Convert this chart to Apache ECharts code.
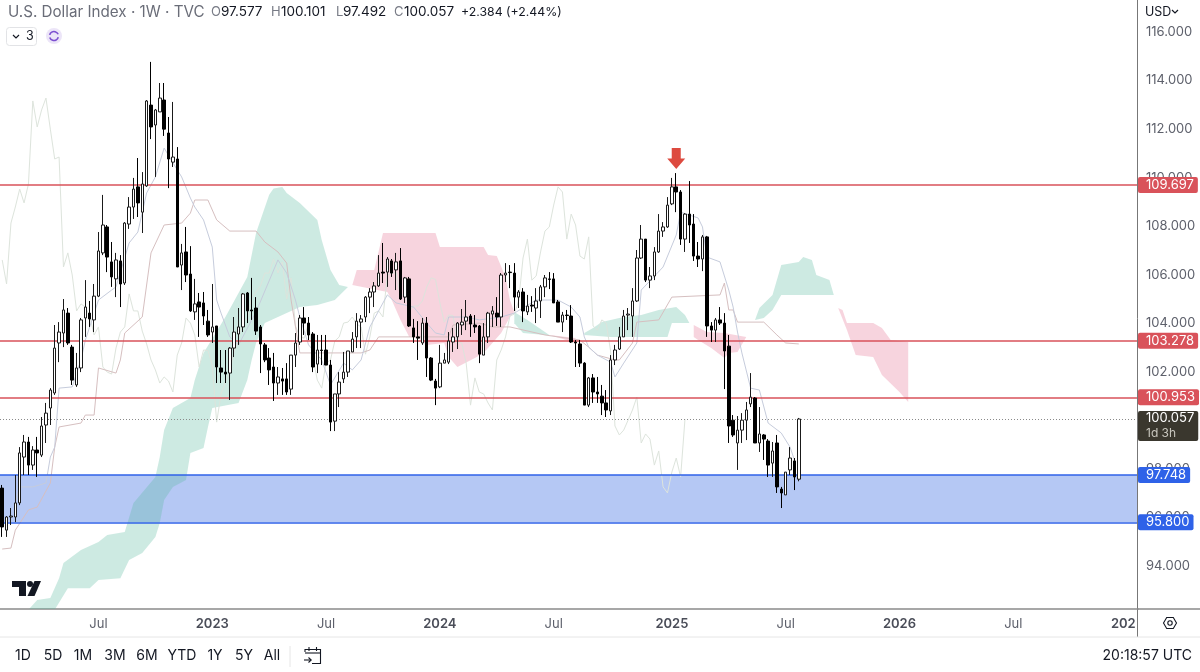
<!DOCTYPE html>
<html>
<head>
<meta charset="utf-8">
<title>U.S. Dollar Index</title>
<script src="https://cdn.jsdelivr.net/npm/echarts@6/dist/echarts.min.js"></script>
<style>
  html, body { margin: 0; padding: 0; background: #fff; }
  #chart { width: 1200px; height: 672px; }
</style>
</head>
<body>
<div id="chart"></div>
<script>
// Weekly axis: first visible week and number of slots (candles stop at index 182)
const firstWeek = '2022-01-31';
const weekCount = 260;
const tickWeeks = ['2022-07-04', '2023-01-02', '2023-07-03', '2024-01-01', '2024-07-01', '2025-01-06', '2025-07-07', '2026-01-05', '2026-07-06', '2027-01-04'];
const tickTexts = ['Jul', '2023', 'Jul', '2024', 'Jul', '2025', 'Jul', '2026', 'Jul', '2027'];
const priceTicks = [94, 96, 98, 100, 102, 104, 106, 108, 110, 112, 114, 116];

// Candles
const opens = [97.21,95.48,96.02,96.02,96.60,98.49,99.11,98.16,98.78,98.57,99.81,100.51,101.13,103.19,103.60,104.42,103.02,101.46,102.16,104.22,104.42,104.14,105.12,106.90,107.97,106.53,105.83,106.57,105.66,108.09,108.79,109.62,108.58,109.66,112.99,112.17,112.71,113.20,111.84,110.64,110.77,106.40,106.94,106.03,104.47,104.88,104.84,104.09,103.64,103.89,102.16,101.99,101.95,102.98,103.56,103.85,105.25,104.55,104.63,103.85,103.11,102.57,102.20,101.54,101.71,101.71,101.29,102.69,103.23,104.22,104.01,103.56,102.32,102.90,102.90,102.28,99.97,101.09,101.71,101.99,102.82,103.44,104.05,104.26,105.08,105.29,105.54,106.11,106.11,106.57,106.20,106.57,105.08,105.83,103.81,103.44,103.19,104.01,102.57,101.62,101.38,102.36,102.40,103.23,103.44,103.93,104.09,104.30,103.93,103.89,102.69,103.44,104.38,104.42,104.26,105.99,106.11,106.07,105.08,105.29,104.47,104.75,104.63,104.92,105.50,105.83,105.83,104.88,104.05,104.34,104.30,103.23,103.15,102.36,100.63,101.75,101.17,101.00,100.72,100.39,102.49,102.94,103.44,104.34,104.30,104.92,106.69,107.47,105.78,105.95,106.94,107.80,107.97,108.92,109.62,109.41,107.47,108.50,108.09,106.77,106.65,107.56,103.89,103.72,104.14,104.01,103.06,100.01,99.07,99.60,100.01,100.68,100.92,99.07,99.40,99.15,98.24,99.07,97.17,96.93,97.96,98.33,97.577];
const closes = [95.61,96.02,96.06,96.60,98.66,99.11,98.16,98.78,98.66,99.77,100.30,101.25,102.98,103.64,104.55,103.19,101.66,102.16,104.14,104.67,104.18,105.12,106.98,108.05,106.73,105.91,106.61,105.62,108.13,108.79,109.53,108.96,109.74,113.16,112.09,112.79,113.28,112.00,110.77,110.85,106.32,106.90,105.99,104.51,104.80,104.67,104.30,103.52,103.85,102.20,101.99,101.91,102.98,103.64,103.85,105.21,104.51,104.51,103.68,103.15,102.49,102.08,101.54,101.79,101.62,101.17,102.69,103.19,104.22,104.01,103.52,102.20,102.90,102.88,102.28,99.93,101.09,101.58,101.99,102.86,103.35,104.09,104.18,105.08,105.29,105.54,106.07,106.07,106.65,106.07,106.53,105.00,105.87,103.89,103.44,103.39,104.01,102.57,101.66,101.33,102.36,102.49,103.27,103.44,104.01,104.05,104.26,103.97,103.85,102.73,103.44,104.42,104.51,104.26,105.99,106.07,106.09,105.08,105.29,104.51,104.71,104.71,104.92,105.50,105.87,105.81,104.84,104.05,104.34,104.32,103.23,103.19,102.36,100.63,101.75,101.17,101.09,100.72,100.43,102.49,102.90,103.44,104.30,104.38,104.92,106.69,107.47,105.78,105.95,106.94,107.80,107.97,108.87,109.62,109.41,107.47,108.50,108.05,106.77,106.65,107.56,103.89,103.72,104.14,104.01,102.86,99.77,99.40,99.60,100.01,100.43,100.96,99.07,99.44,99.23,98.16,98.74,97.26,97.01,97.87,98.45,97.67,100.057];
const lows = [95.20,95.20,95.69,95.81,96.51,97.75,97.75,97.96,97.67,98.49,99.07,99.81,101.05,102.40,103.02,103.11,101.46,101.38,101.99,103.44,103.85,103.64,105.08,106.81,106.11,105.50,105.08,104.67,105.58,107.89,108.30,108.38,107.72,109.62,111.59,110.03,112.71,111.72,109.57,110.44,106.32,105.37,105.70,104.47,104.14,103.44,103.93,103.44,103.19,101.54,101.54,101.54,100.84,102.61,103.11,103.64,104.01,104.14,103.52,101.95,102.40,101.46,100.80,101.05,101.05,101.05,101.05,102.20,103.11,103.52,103.31,101.99,101.95,102.28,102.28,99.56,99.56,100.55,101.54,101.79,102.82,102.98,102.98,104.05,104.42,104.67,105.50,105.66,105.50,105.91,105.37,104.96,104.84,103.85,103.19,102.49,103.11,101.79,101.62,100.63,101.33,102.36,102.32,102.82,102.94,103.52,103.72,103.44,103.60,102.36,102.69,103.19,103.85,103.89,103.85,105.70,105.45,104.51,104.63,104.05,104.34,104.47,104.01,104.22,105.08,105.41,104.84,104.05,103.64,104.14,103.19,102.20,102.20,100.63,100.55,100.72,100.72,100.22,100.14,100.22,102.28,102.90,103.44,103.72,103.44,104.88,106.65,105.70,105.45,105.78,106.90,107.56,107.93,108.87,108.58,107.23,106.94,107.31,106.57,106.32,106.15,103.44,103.23,103.23,103.93,101.29,99.07,99.32,97.96,99.07,99.19,100.55,99.07,98.70,98.37,97.67,97.67,97.01,96.39,96.93,97.75,97.13,97.492];
const highs = [97.34,96.06,96.39,97.75,98.90,99.40,99.32,98.94,99.32,100.14,100.72,101.33,103.93,104.05,105.00,104.63,103.11,102.78,104.22,105.78,104.92,105.62,107.76,109.29,108.05,107.35,106.90,106.81,108.17,109.20,109.99,110.81,110.23,113.20,114.77,112.83,113.90,113.90,112.50,113.12,111.26,107.27,107.97,107.18,105.83,105.25,105.29,104.55,105.62,103.89,102.90,102.90,103.02,104.26,104.63,105.25,105.29,105.87,105.08,103.93,103.19,102.98,102.78,102.20,102.16,102.36,102.69,103.60,104.34,104.67,104.26,103.64,103.52,103.52,103.52,102.49,101.09,101.99,102.82,102.86,103.64,104.42,104.34,105.12,105.45,105.70,106.81,107.31,106.73,106.65,106.90,107.10,105.91,105.91,104.18,104.09,104.22,104.26,102.61,101.71,103.11,102.78,103.64,103.81,104.05,104.59,104.96,104.38,104.34,103.93,104.01,104.47,104.71,105.08,106.07,106.48,106.40,106.48,105.37,105.45,105.17,105.12,105.45,105.58,105.99,106.11,106.07,104.96,104.47,104.55,104.75,103.31,103.31,102.40,101.79,101.91,101.79,101.46,101.25,102.69,103.11,103.85,104.55,104.63,105.45,107.02,108.05,107.47,106.32,107.14,108.50,108.17,109.20,109.99,110.19,109.49,108.54,109.86,108.50,107.35,107.64,107.60,104.05,104.22,104.67,104.42,103.52,100.22,100.18,100.30,100.76,101.95,100.96,100.55,99.44,99.23,99.11,99.40,97.26,97.87,98.90,98.45,100.101];

// Indicator lines, [week index, price] at the vertices seen on the picture
const laggingValues = [106.61,105.62,108.13,108.79,109.53,108.96,109.74,113.16,112.09,112.79,113.28,112.00,110.77,110.85,106.32,106.90,105.99,104.51,104.80,104.67,104.30,103.52,103.85,102.20,101.99,101.91,102.98,103.64,103.85,105.21,104.51,104.51,103.68,103.15,102.49,102.08,101.54,101.79,101.62,101.17,102.69,103.19,104.22,104.01,103.52,102.20,102.90,102.88,102.28,99.93,101.09,101.58,101.99,102.86,103.35,104.09,104.18,105.08,105.29,105.54,106.07,106.07,106.65,106.07,106.53,105.00,105.87,103.89,103.44,103.39,104.01,102.57,101.66,101.33,102.36,102.49,103.27,103.44,104.01,104.05,104.26,103.97,103.85,102.73,103.44,104.42,104.51,104.26,105.99,106.07,106.09,105.08,105.29,104.51,104.71,104.71,104.92,105.50,105.87,105.81,104.84,104.05,104.34,104.32,103.23,103.19,102.36,100.63,101.75,101.17,101.09,100.72,100.43,102.49,102.90,103.44,104.30,104.38,104.92,106.69,107.47,105.78,105.95,106.94,107.80,107.97,108.87,109.62,109.41,107.47,108.50,108.05,106.77,106.65,107.56,103.89,103.72,104.14,104.01,102.86,99.77,99.40,99.60,100.01,100.43,100.96,99.07,99.44,99.23,98.16,98.74,97.26,97.01,97.87,98.45,97.67,100.057];
const baseLine = [[0,94.7],[2,94.74],[3,95.48],[6,96.31],[8,96.43],[11,97.42],[12,98.9],[13,99.73],[18,99.89],[19,100.22],[21,100.22],[22,102.16],[26,101.95],[27,102.49],[28,103.6],[32,104.26],[34,106.9],[37,108.05],[41,108.13],[43,108.54],[44,109.08],[47,109.08],[49,108.26],[52,107.8],[58,107.8],[60,107.35],[63,106.94],[65,106.48],[66,104.96],[68,102.78],[71,102.78],[82,102.78],[84,102.9],[86,103.44],[102,103.44],[103,103.93],[109,104.01],[112,103.85],[116,103.85],[124,103.52],[127,103.44],[132,103.31],[134,103.02],[136,102.69],[140,102.49],[141,102.49],[144,103.19],[145,104.05],[150,104.14],[153,105.08],[164,105.17],[165,105.66],[166,104.55],[167,104.55],[168,104.05],[174,104.05],[177,103.52],[179,103.19],[182,103.15]];
const conversionLine = [[3,96.6],[4,97.26],[7,97.26],[10,97.42],[11,98.49],[12,98.9],[13,101.33],[16,101.38],[18,102.49],[19,103.31],[22,104.96],[25,105.37],[26,105.5],[29,107.31],[31,107.76],[33,109.37],[35,110.03],[37,111.22],[40,110.32],[41,110.03],[43,109.16],[44,108.79],[46,108.26],[48,107.14],[49,104.96],[50,104.42],[52,103.44],[54,103.11],[58,104.47],[63,106.61],[65,106.07],[67,104.96],[68,104.26],[70,103.11],[73,102.49],[75,101.46],[78,102.36],[80,102.08],[82,102.49],[84,103.85],[88,105.17],[90,104.84],[94,104.67],[97,104.01],[99,103.6],[101,103.52],[102,104.26],[106,104.26],[109,104.14],[114,104.26],[117,104.42],[122,104.96],[127,104.96],[130,104.67],[132,104.26],[133,103.44],[134,103.02],[136,102.69],[139,102.4],[140,101.79],[142,102.36],[145,103.19],[146,105.37],[151,106.32],[154,107.64],[155,108.58],[159,108.34],[160,107.97],[161,106.73],[164,106.53],[166,105.37],[167,104.67],[168,103.64],[169,102.78],[171,101.33],[173,101.25],[175,99.89],[178,99.48],[180,98.9],[181,98.37]];

// Cloud edges, [week index, price]
const greenTop1 = [[6,92.2],[8,92.6],[11,92.68],[13,93.5],[14,94.12],[18,94.66],[22,94.99],[24,95.28],[28,95.4],[30,96.6],[35,97.67],[36,98.49],[37,99.6],[39,100.51],[43,100.92],[44,101.66],[46,102.78],[51,104.26],[56,105.91],[58,107.72],[61,109.3],[62,109.55],[64,109.62],[65,109.37],[68,108.96],[72,108.26],[73,107.43],[75,106.2],[77,105.58],[79,105.5]];
const greenBottom1 = [[12,92.2],[15,93.09],[20,93.09],[22,93.42],[27,93.5],[29,94.25],[32,94.54],[35,95.2],[36,95.77],[37,96.72],[39,97.26],[42,97.54],[43,98.66],[46,98.86],[47,99.72],[48,100.51],[54,100.72],[56,101.66],[57,102.49],[58,103.19],[60,104.01],[63,104.26],[68,104.67],[72,104.75],[76,104.96],[79,105.5]];
const pinkTop1 = [[80,105.58],[81,106.2],[85,106.2],[87,107.72],[99,107.72],[100,107.14],[110,107.14],[111,106.81],[113,106.77],[115,105.91],[116,104.96],[117,104.47]];
const pinkBottom1 = [[80,105.58],[88,105.29],[89,104.96],[91,104.14],[93,103.44],[95,103.39],[97,103.11],[101,103.19],[102,102.61],[104,102.2],[108,102.57],[110,102.78],[114,103.6],[116,104.26],[117,104.47]];
const greenTop2 = [[117,104.47],[120,104.14],[125,103.52]];
const greenBottom2 = [[117,104.0],[119,103.6],[124,103.52],[125,103.52]];
const pinkTop2 = [[125,103.52],[131,103.39]];
const pinkBottom2 = [[125,103.52],[131,103.2]];
const greenTop3 = [[133,103.6],[135,103.81],[137,104.05],[139,104.14],[142,104.26],[146,104.34],[150,104.55],[154,104.67],[156,104.34],[157,104.01]];
const greenBottom3 = [[133,103.52],[139,103.44],[152,103.44],[153,104.01],[157,104.01]];
const pinkTop3 = [[158,103.93],[161,103.64],[165,103.6],[170,103.44]];
const pinkBottom3 = [[158,103.44],[159,103.31],[162,102.98],[165,102.57],[166,102.78],[168,102.82],[170,103.44]];
const greenTop4 = [[172,104.14],[173,104.63],[176,105.17],[178,106.4],[182,106.53],[183,106.73],[185,106.61],[186,105.99],[189,105.78],[190,105.17]];
const greenBottom4 = [[172,104.14],[174,104.22],[176,104.55],[178,105.17],[190,105.17]];
const pinkTop4 = [[191,104.63],[192,104.55],[193,104.01],[199,104.01],[201,103.81],[203,103.31],[207,103.23],[207,100.76]];
const pinkBottom4 = [[191,104.63],[193,103.72],[195,102.69],[199,102.61],[201,101.87],[205,101.17],[207,100.76]];

// Drawn levels
const redLevels = [109.697, 103.278, 100.953];
const blueLevels = [97.748, 95.8];
const lastPrice = 100.057;
const arrowWeek = 154;
const arrowPrice = 110.79;

// Toolbar text
const rangeButtons = ['1D', '5D', '1M', '3M', '6M', 'YTD', '1Y', '5Y', 'All'];
const rangeCentres = [23, 53, 83, 115, 147, 182, 215, 244, 272];

const FONT = 'Inter, Roboto, sans-serif';
const GREEN = 'rgba(88,186,160,0.30)';
const PINK = 'rgba(226,100,135,0.28)';
const RED = '#d9525a';
const BLUE = '#2f62e8';

// Category list: one Monday per slot
const weeks = [];
for (let i = 0; i < weekCount; i++) {
    const d = new Date(Date.parse(firstWeek + 'T00:00:00Z') + i * 7 * 86400000);
    weeks.push(d.toISOString().slice(0, 10));
}
const candles = opens.map((o, i) => [o, closes[i], lows[i], highs[i]]);

// One filled polygon from a top and a bottom edge
function cloudSeries(name, top, bottom, color) {
    const outline = top.concat(bottom.slice().reverse());
    return {
        name: name,
        type: 'custom',
        coordinateSystem: 'cartesian2d',
        clip: true,
        silent: true,
        z: 1,
        data: outline,
        encode: { x: 0, y: 1 },
        renderItem: function (params, api) {
            if (params.dataIndex !== 0) return null;
            return {
                type: 'polygon',
                shape: { points: outline.map(p => api.coord(p)) },
                style: { fill: color }
            };
        }
    };
}

function thinLine(name, data, color) {
    return {
        name: name,
        type: 'line',
        data: data,
        symbol: 'none',
        silent: true,
        z: 3,
        lineStyle: { color: color, width: 1 }
    };
}

function badge(value, color, rightPad) {
    return {
        yAxis: value,
        lineStyle: { color: color, width: 1.6, type: 'solid' },
        label: {
            show: true,
            position: 'end',
            distance: 0,
            formatter: value.toFixed(3),
            backgroundColor: color,
            borderRadius: 2,
            color: '#fff',
            fontFamily: FONT,
            fontSize: 13,
            lineHeight: 16,
            padding: [0, rightPad, 0, 8]
        }
    };
}

function headerText(text, x, color, size) {
    return {
        type: 'text',
        x: x,
        y: 12,
        z: 50,
        silent: true,
        style: { text: text, fill: color, font: size + 'px ' + FONT, textVerticalAlign: 'middle' }
    };
}

const headerItems = [
    headerText('U.S. Dollar Index · 1W · TVC', 8, '#6a6d78', 15.2),
    headerText('O', 211, '#787b86', 13), headerText('97.577', 221, '#131722', 13.5),
    headerText('H', 271, '#787b86', 13), headerText('100.101', 281, '#131722', 13.5),
    headerText('L', 336, '#787b86', 13), headerText('97.492', 343, '#131722', 13.5),
    headerText('C', 394, '#787b86', 13), headerText('100.057', 404, '#131722', 13.5),
    headerText('+2.384 (+2.44%)', 461, '#131722', 12.3)
];

const toolbarItems = rangeButtons.map((t, i) => ({
    type: 'text',
    x: rangeCentres[i],
    y: 656,
    silent: true,
    style: { text: t, fill: '#131722', font: '14px ' + FONT, textAlign: 'center', textVerticalAlign: 'middle' }
}));

const chart = echarts.init(document.getElementById('chart'), null, { renderer: 'canvas' });

chart.setOption({
    animation: false,
    backgroundColor: '#fff',
    grid: { left: 0, top: 0, width: 1138, height: 609, containLabel: false },
    xAxis: {
        type: 'category',
        data: weeks,
        axisLine: { show: true, onZero: false, lineStyle: { color: '#8a8a8a', width: 1.5 } },
        axisTick: { show: false },
        splitLine: { show: false },
        axisLabel: {
            margin: 8,
            hideOverlap: false,
            color: '#5d606b',
            fontFamily: FONT,
            fontSize: 13,
            lineHeight: 14,
            interval: (index, value) => tickWeeks.includes(value),
            formatter: function (value) {
                const text = tickTexts[tickWeeks.indexOf(value)];
                return text === 'Jul' ? text : '{year|' + text + '}';
            },
            rich: { year: { fontWeight: 600, color: '#4a4d58', fontFamily: FONT, fontSize: 13 } }
        }
    },
    yAxis: {
        type: 'value',
        position: 'right',
        min: 92.23,
        max: 117.32,
        axisLine: { show: false },
        axisTick: { show: false },
        splitLine: { show: false },
        axisLabel: {
            customValues: priceTicks,
            margin: 8,
            color: '#5d606b',
            fontFamily: FONT,
            fontSize: 13,
            formatter: v => v.toFixed(3)
        }
    },
    series: [
        cloudSeries('cloud1', greenTop1, greenBottom1, GREEN),
        cloudSeries('cloud2', pinkTop1, pinkBottom1, PINK),
        cloudSeries('cloud3', greenTop2, greenBottom2, GREEN),
        cloudSeries('cloud4', pinkTop2, pinkBottom2, PINK),
        cloudSeries('cloud5', greenTop3, greenBottom3, GREEN),
        cloudSeries('cloud6', pinkTop3, pinkBottom3, PINK),
        cloudSeries('cloud7', greenTop4, greenBottom4, GREEN),
        cloudSeries('cloud8', pinkTop4, pinkBottom4, PINK),
        thinLine('lagging', laggingValues, '#dde4dc'),
        thinLine('base', baseLine, '#d6bfc0'),
        thinLine('conversion', conversionLine, '#c6ccdc'),
        {
            name: 'levels',
            type: 'line',
            data: [],
            z: 2,
            silent: true,
            markArea: {
                silent: true,
                itemStyle: { color: 'rgba(60,110,225,0.38)' },
                data: [[{ yAxis: blueLevels[1] }, { yAxis: blueLevels[0] }]]
            },
            markLine: {
                silent: true,
                symbol: 'none',
                animation: false,
                data: [
                    badge(redLevels[0], RED, 4),
                    badge(redLevels[1], RED, 4),
                    badge(redLevels[2], RED, 4),
                    badge(blueLevels[0], BLUE, 4),
                    badge(blueLevels[1], BLUE, 4),
                    {
                        yAxis: lastPrice,
                        lineStyle: { color: '#8a8a8a', width: 1, type: [1, 2] },
                        label: {
                            show: true,
                            position: 'end',
                            distance: 0,
                            offset: [0, 7],
                            formatter: lastPrice.toFixed(3) + '\n{sub|1d 3h}',
                            backgroundColor: '#3a372e',
                            borderRadius: 2,
                            color: '#fff',
                            fontFamily: FONT,
                            fontSize: 13,
                            lineHeight: 15,
                            padding: [0, 4, 0, 8],
                            rich: { sub: { color: '#c9c7bf', fontFamily: FONT, fontSize: 12, lineHeight: 15 } }
                        }
                    }
                ]
            },
            markPoint: {
                silent: true,
                symbol: 'path://M4.5 0H13.500V10H18L9 20L0 10H4.500Z',
                symbolSize: [18, 21],
                itemStyle: { color: '#dd4a3f' },
                label: { show: false },
                data: [{ coord: [arrowWeek, arrowPrice] }]
            }
        },
        {
            name: 'DXY',
            type: 'candlestick',
            data: candles,
            z: 5,
            silent: true,
            barWidth: 3,
            itemStyle: {
                color: '#ffffff',
                color0: '#000000',
                borderColor: '#1a1a1a',
                borderColor0: '#000000',
                borderWidth: 1
            }
        }
    ],
    graphic: [
        // Price scale panel edges: the year label runs under it
        { type: 'rect', z: 40, silent: true, shape: { x: 1136, y: 610, width: 64, height: 27 }, style: { fill: '#fff' } },
        { type: 'line', z: 41, silent: true, shape: { x1: 1137.5, y1: 0, x2: 1137.5, y2: 637 }, style: { stroke: '#777', lineWidth: 1 } },
        { type: 'line', z: 41, silent: true, shape: { x1: 1137, y1: 609, x2: 1200, y2: 609 }, style: { stroke: '#8a8a8a', lineWidth: 1.5 } },
        { type: 'line', z: 41, silent: true, shape: { x1: 0, y1: 637, x2: 1200, y2: 637 }, style: { stroke: '#e6e6e6', lineWidth: 1 } },
        // Header
        ...headerItems,
        { type: 'text', x: 1145, y: 12, z: 50, silent: true, style: { text: 'USD', fill: '#131722', font: '12.5px ' + FONT, textVerticalAlign: 'middle' } },
        { type: 'polyline', z: 50, silent: true, shape: { points: [[1172, 10], [1175, 13], [1178, 10]] }, style: { stroke: '#131722', lineWidth: 1.2, fill: null } },
        { type: 'rect', z: 50, silent: true, shape: { x: 6.5, y: 27.5, width: 30, height: 18, r: 3 }, style: { fill: '#fff', stroke: '#e2e3e6', lineWidth: 1 } },
        { type: 'polyline', z: 51, silent: true, shape: { points: [[13, 35], [16, 38], [19, 35]] }, style: { stroke: '#131722', lineWidth: 1.2, fill: null } },
        { type: 'text', x: 26, y: 36.5, z: 51, silent: true, style: { text: '3', fill: '#131722', font: '12.5px ' + FONT, textVerticalAlign: 'middle' } },
        { type: 'circle', z: 50, silent: true, shape: { cx: 54, cy: 36, r: 8 }, style: { fill: '#ece5f8' } },
        { type: 'arc', z: 51, silent: true, shape: { cx: 54, cy: 36, r: 4.5, startAngle: 0.3, endAngle: 2.8 }, style: { stroke: '#7c4fd0', lineWidth: 1.6, fill: null } },
        { type: 'arc', z: 51, silent: true, shape: { cx: 54, cy: 36, r: 4.5, startAngle: 3.4, endAngle: 5.9 }, style: { stroke: '#7c4fd0', lineWidth: 1.6, fill: null } },
        // Logo
        { type: 'polygon', z: 50, silent: true, shape: { points: [[12, 581], [26, 581], [26, 596], [19, 596], [19, 587], [12, 587]] }, style: { fill: '#131722' } },
        { type: 'circle', z: 50, silent: true, shape: { cx: 30, cy: 584, r: 3 }, style: { fill: '#131722' } },
        { type: 'polygon', z: 50, silent: true, shape: { points: [[34.5, 581], [41, 581], [34.5, 596], [27.5, 596]] }, style: { fill: '#131722' } },
        // Settings icon under the price scale
        { type: 'polygon', z: 50, silent: true, shape: { points: [[1163.5, 623], [1166.7, 617.5], [1173.3, 617.5], [1176.5, 623], [1173.3, 628.5], [1166.7, 628.5]] }, style: { fill: 'none', stroke: '#131722', lineWidth: 1.1 } },
        { type: 'circle', z: 50, silent: true, shape: { cx: 1170, cy: 623, r: 2.2 }, style: { fill: 'none', stroke: '#131722', lineWidth: 1.1 } },
        // Bottom toolbar
        ...toolbarItems,
        { type: 'line', silent: true, shape: { x1: 290, y1: 646, x2: 290, y2: 667 }, style: { stroke: '#e6e6e6', lineWidth: 1 } },
        { type: 'polyline', silent: true, shape: { points: [[305, 652], [305, 649.5], [320.5, 649.5], [320.5, 663.5], [312, 663.5]] }, style: { fill: 'none', stroke: '#131722', lineWidth: 1.1 } },
        { type: 'line', silent: true, shape: { x1: 305, y1: 653, x2: 320.5, y2: 653 }, style: { stroke: '#131722', lineWidth: 1.1 } },
        { type: 'line', silent: true, shape: { x1: 309, y1: 647, x2: 309, y2: 651 }, style: { stroke: '#131722', lineWidth: 1.1 } },
        { type: 'line', silent: true, shape: { x1: 316.5, y1: 647, x2: 316.5, y2: 651 }, style: { stroke: '#131722', lineWidth: 1.1 } },
        { type: 'line', silent: true, shape: { x1: 304, y1: 660, x2: 311, y2: 660 }, style: { stroke: '#131722', lineWidth: 1.1 } },
        { type: 'polyline', silent: true, shape: { points: [[308.5, 657.5], [311.2, 660], [308.5, 662.5]] }, style: { fill: 'none', stroke: '#131722', lineWidth: 1.1 } },
        { type: 'text', x: 1192, y: 656, silent: true, style: { text: '20:18:57 UTC', fill: '#131722', font: '14px ' + FONT, textAlign: 'right', textVerticalAlign: 'middle' } }
    ]
});
</script>
</body>
</html>
